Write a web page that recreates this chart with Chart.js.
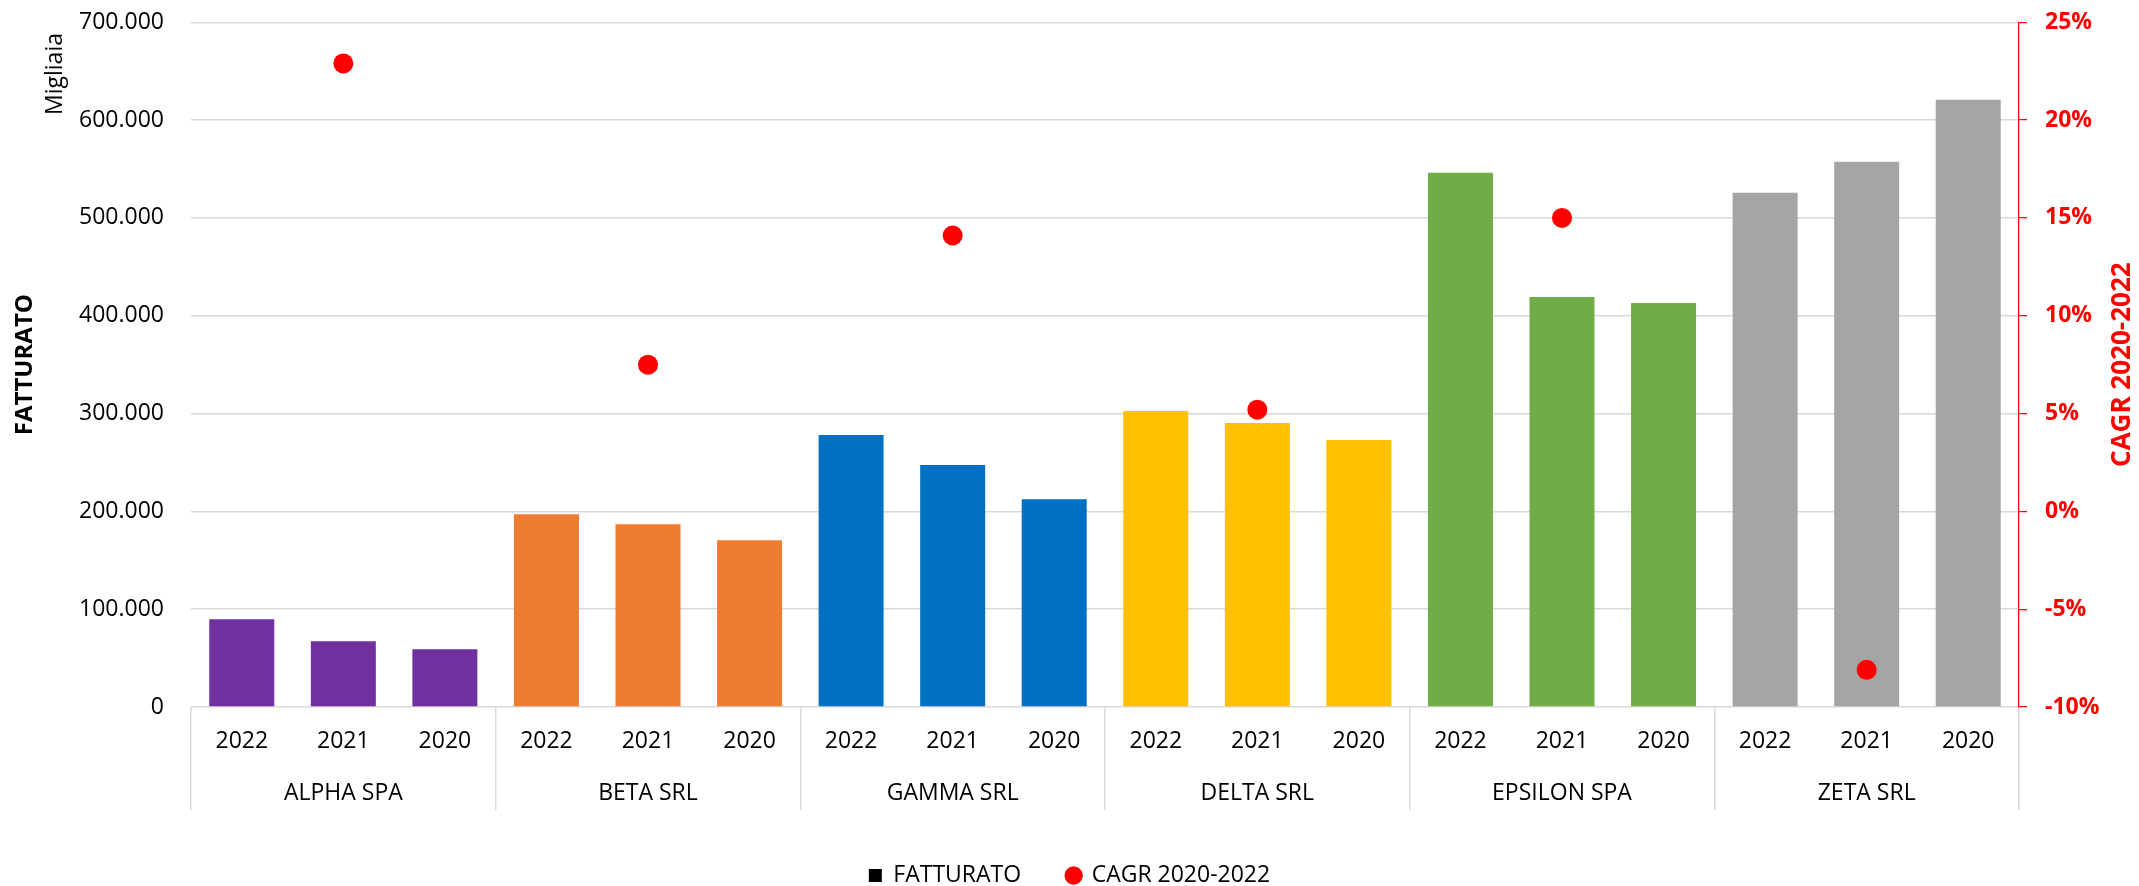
<!DOCTYPE html>
<html>
<head>
<meta charset="utf-8">
<script src="https://cdn.jsdelivr.net/npm/chart.js@4.4.1/dist/chart.umd.min.js"></script>
<style>
  html, body { margin: 0; padding: 0; background: #fff; }
  #wrap { width: 2139px; height: 886px; }
</style>
</head>
<body>
<div id="wrap"><canvas id="c" width="2139" height="886"></canvas></div>
<script>
// ---- data ----
const groups = ['ALPHA SPA', 'BETA SRL', 'GAMMA SRL', 'DELTA SRL', 'EPSILON SPA', 'ZETA SRL'];
const years = ['2022', '2021', '2020'];
const fatturato = [
  89700, 67100, 59000,
  197100, 186900, 170500,
  278000, 247300, 212500,
  302600, 290300, 272900,
  546200, 419200, 413100,
  525700, 557400, 620900
];
const cagr = [
  null, 22.9, null,
  null, 7.5, null,
  null, 14.1, null,
  null, 5.2, null,
  null, 15.0, null,
  null, -8.1, null
];
const leftTicks = [0, 100000, 200000, 300000, 400000, 500000, 600000, 700000];
const rightTicks = [-10, -5, 0, 5, 10, 15, 20, 25];
const groupColors = ['#7030A0', '#ED7D31', '#0070C0', '#FFC000', '#70AD47', '#A5A5A5'];

// ---- derived ----
// two-level category labels: year on line 1, company name under the middle year
const labels = groups.flatMap(g => years.map((y, j) => [y, j === 1 ? g : '']));
const barColors = groups.flatMap((g, i) => years.map(() => groupColors[i]));
const fmtThousands = v => v === 0 ? '0' : String(Math.round(v)).replace(/\B(?=(\d{3})+(?!\d))/g, '.');

const FONT = '"Open Sans", "Noto Sans", sans-serif';
Chart.defaults.font.family = FONT;
Chart.defaults.color = '#000';

const extraText = {
  id: 'extraText',
  afterDraw(chart) {
    const ctx = chart.ctx;
    const a = chart.chartArea;
    ctx.save();
    ctx.translate(55, 74);
    ctx.rotate(-Math.PI / 2);
    ctx.textAlign = 'center';
    ctx.textBaseline = 'middle';
    ctx.font = '23px ' + FONT;
    ctx.fillStyle = '#000';
    ctx.fillText('Migliaia', 0, 0);
    ctx.restore();
    ctx.save();
    ctx.translate(2123, (a.top + a.bottom) / 2);
    ctx.rotate(-Math.PI / 2);
    ctx.textAlign = 'center';
    ctx.textBaseline = 'middle';
    ctx.font = 'bold 26px ' + FONT;
    ctx.fillStyle = '#FF0000';
    ctx.fillText('CAGR 2020-2022', 0, 0);
    ctx.restore();
  }
};

const noVPad = s => { s.paddingTop = 0; s.paddingBottom = 0; };

new Chart(document.getElementById('c'), {
  data: {
    labels: labels,
    datasets: [
      {
        type: 'line',
        label: 'CAGR 2020-2022',
        data: cagr,
        yAxisID: 'y1',
        showLine: false,
        pointRadius: 10,
        pointHoverRadius: 10,
        pointBorderWidth: 0,
        backgroundColor: '#FF0000',
        borderColor: '#FF0000',
        order: 0
      },
      {
        type: 'bar',
        label: 'FATTURATO',
        data: fatturato,
        yAxisID: 'y',
        backgroundColor: barColors,
        barPercentage: 0.64,
        categoryPercentage: 1.0,
        order: 1
      }
    ]
  },
  options: {
    responsive: false,
    animation: false,
    layout: { padding: { top: 22.3, left: 0, right: 0, bottom: 0 } },
    plugins: {
      tooltip: { enabled: false },
      legend: {
        position: 'bottom',
        maxHeight: 68,
        labels: {
          usePointStyle: true,
          boxWidth: 13,
          boxHeight: 13,
          padding: 46,
          color: '#000',
          font: { size: 23, family: FONT },
          generateLabels: () => [
            { text: 'FATTURATO', fillStyle: '#000', strokeStyle: '#000', lineWidth: 0, pointStyle: 'rect', datasetIndex: 1, hidden: false },
            { text: 'CAGR 2020-2022', fillStyle: '#FF0000', strokeStyle: '#FF0000', lineWidth: 0, pointStyle: 'circle', datasetIndex: 0, hidden: false }
          ]
        }
      }
    },
    scales: {
      x: {
        type: 'category',
        position: 'bottom',
        offset: true,
        grid: {
          offset: true,
          drawOnChartArea: false,
          drawTicks: true,
          tickLength: 103,
          lineWidth: 1.5,
          color: ctx => (ctx.index === undefined || ctx.index % 3 === 0) ? '#D9D9D9' : 'rgba(0,0,0,0)'
        },
        border: { display: false },
        ticks: {
          autoSkip: false, maxRotation: 0, minRotation: 0,
          padding: -95, color: '#000',
          font: { size: 23, lineHeight: 2.27 }
        },
        afterFit: s => { s.height = 111; }
      },
      y: {
        position: 'left',
        min: 0,
        max: 700000,
        afterBuildTicks: s => { s.ticks = leftTicks.map(v => ({ value: v })); },
        grid: { color: '#D9D9D9', lineWidth: 1.5, drawTicks: false },
        border: { display: false },
        ticks: { padding: 27, color: '#000', font: { size: 23 }, callback: v => fmtThousands(v) },
        title: { display: true, text: 'FATTURATO', color: '#000', font: { size: 24, weight: 'bold' }, padding: { top: 11, bottom: 0 } },
        afterFit: s => { s.width = 191; noVPad(s); }
      },
      y1: {
        position: 'right',
        min: -10,
        max: 25,
        afterBuildTicks: s => { s.ticks = rightTicks.map(v => ({ value: v })); },
        grid: { drawOnChartArea: false, drawTicks: true, tickLength: 8, color: '#FF0000', lineWidth: 1.25 },
        border: { display: true, color: '#FF0000', width: 1.25 },
        ticks: { padding: 18, color: '#FF0000', font: { size: 23, weight: 'bold' }, callback: v => v + '%' },
        afterFit: s => { s.width = 120; noVPad(s); }
      }
    }
  },
  plugins: [extraText]
});
</script>
</body>
</html>
